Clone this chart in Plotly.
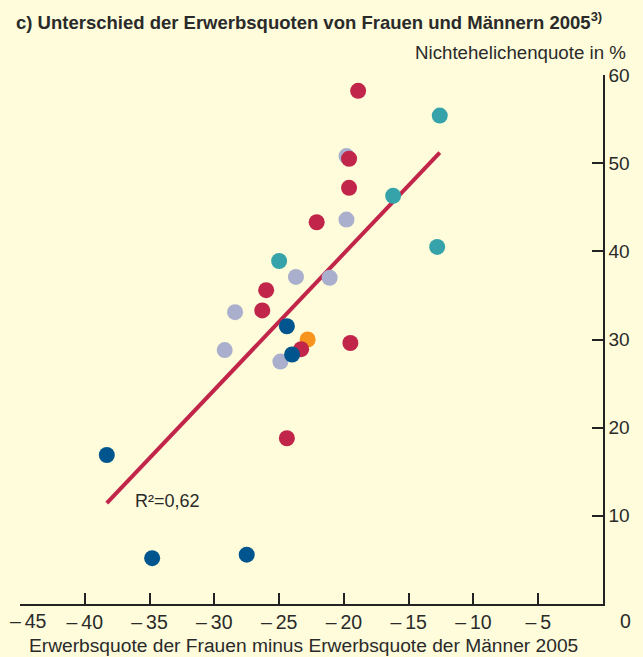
import plotly.graph_objects as go

# ---- data ----
light_x = [-24.9, -29.2, -28.4, -23.7, -21.1, -19.8, -19.8]
light_y = [27.5, 28.8, 33.1, 37.1, 37.0, 43.6, 50.8]
orange_x = [-22.8]
orange_y = [30.0]
teal_x = [-25.0, -16.2, -12.6, -12.8]
teal_y = [38.9, 46.3, 55.4, 40.5]
red_x = [-23.3, -26.3, -26.0, -19.5, -22.1, -19.6, -19.6, -18.9, -24.4]
red_y = [28.9, 33.3, 35.6, 29.6, 43.3, 47.2, 50.5, 58.2, 18.8]
blue_x = [-38.3, -34.8, -27.5, -24.4, -24.0]
blue_y = [16.9, 5.2, 5.6, 31.5, 28.3]
trend_x = [-38.3, -12.6]
trend_y = [11.45, 51.2]
r2_text = "R²=0,62"

x_ticks = [-40, -35, -30, -25, -20, -15, -10, -5]
x_ticktext = ["–\u200940", "–\u200935", "–\u200930", "–\u200925", "–\u200920",
              "–\u200915", "–\u200910", "–\u20095"]
x_first_tick = -45
x_first_text = "–\u200945"
y_ticks = [10, 20, 30, 40, 50, 60]

BG = "#FEFCDA"
RED = "#C1254A"
LIGHT = "#A9AFCD"
TEAL = "#35A3A9"
BLUE = "#00558E"
ORANGE = "#F7941D"
FONT = "Liberation Sans, Arial, sans-serif"
TXT = "#2a2a2a"

fig = go.Figure()
fig.add_trace(go.Scatter(x=trend_x, y=trend_y, mode="lines",
                         line=dict(color=RED, width=4), hoverinfo="skip"))
for xs, ys, c in [(light_x, light_y, LIGHT), (orange_x, orange_y, ORANGE),
                  (teal_x, teal_y, TEAL), (red_x, red_y, RED), (blue_x, blue_y, BLUE)]:
    fig.add_trace(go.Scatter(x=xs, y=ys, mode="markers",
                             marker=dict(color=c, size=16, line=dict(width=0))))

fig.update_layout(
    width=643, height=657,
    margin=dict(l=20, r=40, t=75, b=53),
    paper_bgcolor=BG, plot_bgcolor=BG,
    showlegend=False,
    font=dict(family=FONT, size=19, color=TXT),
    xaxis=dict(range=[-45, 0], tickvals=[x_first_tick] + x_ticks, ticktext=[""] + x_ticktext,
               automargin=False,
               ticks="inside", ticklen=11, tickwidth=1.5, tickcolor="#222",
               showline=True, linecolor="#222", linewidth=1.5,
               showgrid=False, zeroline=False, tickfont=dict(size=19.5, color=TXT)),
    yaxis=dict(range=[0, 60], side="right", tickvals=y_ticks, automargin=False,
               ticks="inside", ticklen=11, tickwidth=1.5, tickcolor="#222",
               showline=True, linecolor="#222", linewidth=1.5,
               showgrid=False, zeroline=False, tickfont=dict(size=19, color=TXT)),
)

fig.add_annotation(text=x_first_text, x=x_first_tick, xref="x", yref="paper", y=-17/529,
                   xanchor="left", yanchor="middle", xshift=-12, showarrow=False,
                   font=dict(size=19.5, color=TXT))
fig.add_annotation(text="<b>c) Unterschied der Erwerbsquoten von Frauen und Männern 2005<sup>3)</sup></b>",
                   xref="paper", yref="paper", x=-6/583, y=1 + 54/529, xanchor="left", yanchor="middle",
                   showarrow=False, font=dict(size=18.5, color=TXT, family=FONT))
fig.add_annotation(text="Nichtehelichenquote in %", xref="paper", yref="paper",
                   x=1 + 25/583, y=1 + 23/529, xanchor="right", yanchor="middle",
                   showarrow=False, font=dict(size=18.7, color=TXT))
fig.add_annotation(text="Erwerbsquote der Frauen minus Erwerbsquote der Männer 2005",
                   xref="paper", yref="paper", x=7/583, y=-41/529, xanchor="left", yanchor="middle",
                   showarrow=False, font=dict(size=19.2, color=TXT))
fig.add_annotation(text="0", xref="paper", yref="paper", x=1 + 22/583, y=-17/529,
                   xanchor="center", yanchor="middle", showarrow=False, font=dict(size=19.5, color=TXT))
fig.add_annotation(text=r2_text, x=-36.3, y=11.7, xanchor="left", yanchor="middle",
                   showarrow=False, font=dict(size=18, color=TXT))

fig.write_html("out.html", config={"displayModeBar": False},
               post_script="document.body.style.margin='0';document.body.style.background='%s';" % BG)
